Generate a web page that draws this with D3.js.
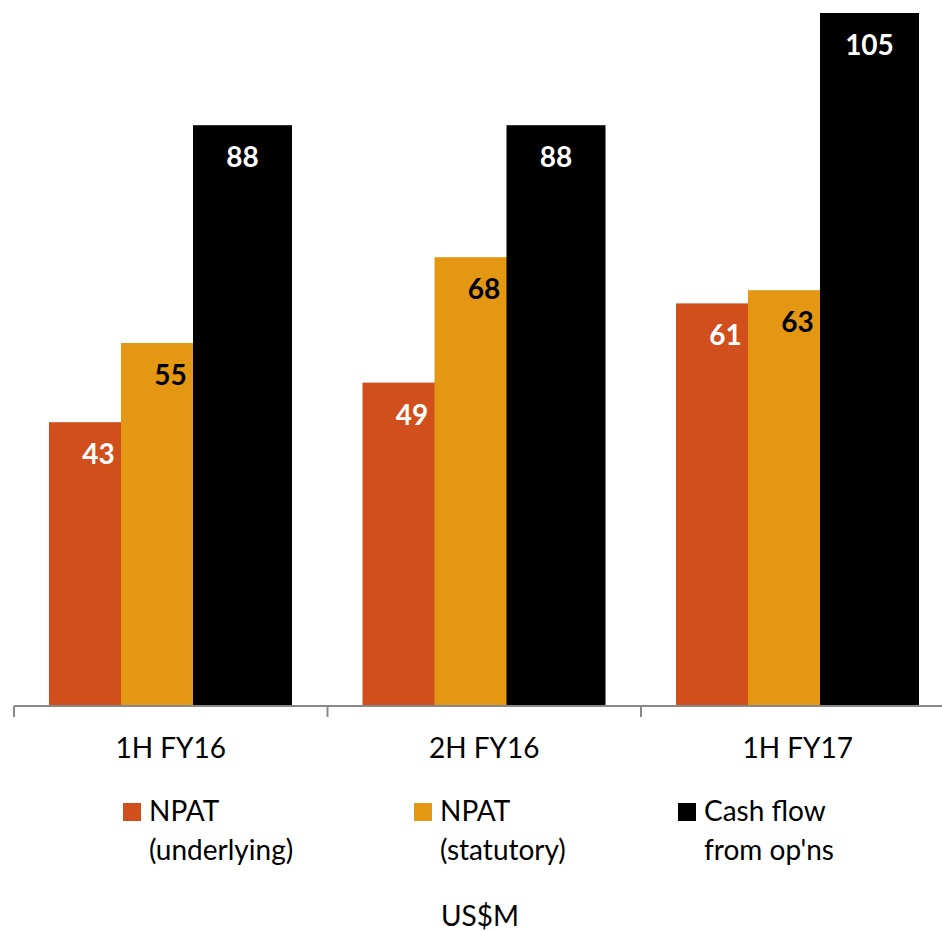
<!DOCTYPE html>
<html>
<head>
<meta charset="utf-8">
<script src="https://cdn.jsdelivr.net/npm/d3@7"></script>
<style>
  body { margin: 0; background: #fff; }
  svg { display: block; font-family: Lato, "Open Sans", sans-serif; }
  .cat { font-size: 28px; fill: #000; }
  .val { font-size: 28px; font-weight: bold; }
  .leg { font-size: 28px; fill: #000; }
</style>
</head>
<body>
<svg></svg>
<script>
const periods = ["1H FY16", "2H FY16", "1H FY17"]
const seriesNames = ["NPAT (underlying)", "NPAT (statutory)", "Cash flow from op'ns"]
const npatUnderlying = [43, 49, 61]
const npatStatutory = [55, 68, 63]
const cashFlow = [88, 88, 105]

const colors = ["#d14f1d", "#e49713", "#000000"]
const labelColors = ["#ffffff", "#000000", "#ffffff"]
const legendLines = [["NPAT", "(underlying)"], ["NPAT", "(statutory)"], ["Cash flow", "from op'ns"]]

const svg = d3.select("svg")
  .attr("width", 942)
  .attr("height", 931)

const x = d3.scaleBand()
  .domain(periods)
  .range([14, 954.5])

const y = d3.scaleLinear()
  .domain([0, 105])
  .range([706, 13])

const series = [npatUnderlying, npatStatutory, cashFlow]
const barStep = 72
const barWidth = 99
const groupPad = 35

const groups = svg.selectAll("g.group")
  .data(periods)
  .enter()
  .append("g")
  .attr("class", "group")
  .attr("transform", d => `translate(${x(d)}, 0)`)

series.forEach((vals, s) => {
  groups.append("rect")
    .attr("x", groupPad + s * barStep)
    .attr("y", (d, i) => y(vals[i]))
    .attr("width", barWidth)
    .attr("height", (d, i) => y(0) - y(vals[i]))
    .attr("fill", colors[s])
})

series.forEach((vals, s) => {
  groups.append("text")
    .attr("class", "val")
    .attr("x", groupPad + s * barStep + barWidth / 2)
    .attr("y", (d, i) => y(vals[i]) + 42)
    .attr("text-anchor", "middle")
    .attr("fill", labelColors[s])
    .text((d, i) => vals[i])
})

// axis line and ticks between groups
svg.append("line")
  .attr("x1", 14).attr("x2", 942)
  .attr("y1", y(0)).attr("y2", y(0))
  .attr("stroke", "#888").attr("stroke-width", 2)

svg.selectAll("line.tick")
  .data(periods)
  .enter()
  .append("line")
  .attr("class", "tick")
  .attr("x1", d => x(d)).attr("x2", d => x(d))
  .attr("y1", y(0)).attr("y2", y(0) + 11)
  .attr("stroke", "#888").attr("stroke-width", 2)

svg.selectAll("text.cat")
  .data(periods)
  .enter()
  .append("text")
  .attr("class", "cat")
  .attr("x", d => x(d) + x.bandwidth() / 2)
  .attr("y", 758)
  .attr("text-anchor", "middle")
  .text(d => d)

// legend
const legendX = [123, 414, 678]
const legend = svg.selectAll("g.legend")
  .data(seriesNames)
  .enter()
  .append("g")
  .attr("class", "legend")
  .attr("transform", (d, i) => `translate(${legendX[i]}, 803)`)

legend.append("rect")
  .attr("width", 18)
  .attr("height", 18)
  .attr("fill", (d, i) => colors[i])

legend.each(function(d, i) {
  const t = d3.select(this).append("text")
    .attr("class", "leg")
    .attr("x", 26)
    .attr("y", 18)
  t.selectAll("tspan")
    .data(legendLines[i])
    .enter()
    .append("tspan")
    .attr("x", 26)
    .attr("dy", (l, j) => j === 0 ? 0 : 39)
    .text(l => l)
})

svg.append("text")
  .attr("class", "leg")
  .attr("x", 480)
  .attr("y", 926)
  .attr("text-anchor", "middle")
  .text("US$M")
</script>
</body>
</html>
